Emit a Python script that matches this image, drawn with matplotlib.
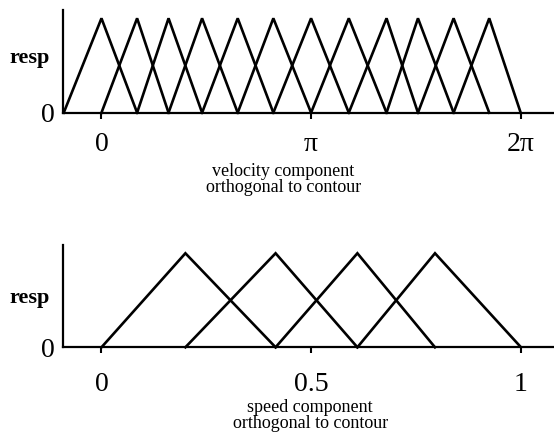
import numpy as np
import matplotlib
matplotlib.use("Agg")
import matplotlib.pyplot as plt

plt.rcParams['font.family'] = ['Liberation Serif', 'DejaVu Serif']

# triangle corners along the axis (each unit's left foot, peak, right foot are
# three consecutive entries); direction units are given in multiples of pi
DIR_VERTICES_PI = [-0.18, 0.0, 0.17, 0.32, 0.48, 0.65, 0.82, 1.0,
                   1.18, 1.36, 1.51, 1.68, 1.85, 2.0]
SPEED_VERTICES = [0.0, 0.2, 0.415, 0.61, 0.795, 1.0]
PEAK_RESP = 1.0

DIR_TICKS_PI = [0, 1, 2]
DIR_TICK_LABELS = ['0', 'π', '2π']
SPEED_TICKS = [0, 0.5, 1]
SPEED_TICK_LABELS = ['0', '0.5', '1']

DIR_XLABEL = 'velocity component\northogonal to contour'
SPEED_XLABEL = 'speed component\northogonal to contour'


def draw_units(ax, vertices, xlim, ticks, tick_labels, xlabel,
               tick_pad, label_pos, resp_y):
    """一排三角形调谐曲线"""
    for i in range(len(vertices) - 2):
        ax.plot(vertices[i:i + 3], [0, PEAK_RESP, 0], color='black', lw=1.9,
                solid_joinstyle='miter', clip_on=False)

    ax.set_xlim(xlim)
    ax.set_ylim(0, 1.088 * PEAK_RESP)
    for side in ('top', 'right'):
        ax.spines[side].set_visible(False)
    for side in ('left', 'bottom'):
        ax.spines[side].set_linewidth(1.6)

    ax.set_xticks(ticks, tick_labels)
    ax.tick_params(axis='x', direction='out', length=4.5, width=1.5,
                   pad=tick_pad, labelsize=20)
    ax.set_yticks([0], ['0'])
    ax.tick_params(axis='y', length=0, pad=6, labelsize=20)

    ax.text(-0.027, resp_y, 'resp', transform=ax.transAxes, ha='right',
            va='baseline', fontsize=16, fontweight='bold')
    ax.text(label_pos[0], label_pos[1], xlabel, transform=ax.transAxes,
            ha='center', va='top', fontsize=13, linespacing=0.95)


def main():
    fig = plt.figure(figsize=(5.54, 4.42), dpi=100)
    ax_dir = fig.add_axes([0.1143, 0.745, 0.8857, 0.2324])
    ax_speed = fig.add_axes([0.1143, 0.2143, 0.8857, 0.2314])

    draw_units(ax_dir, np.array(DIR_VERTICES_PI) * np.pi,
               (-0.182 * np.pi, 2.159 * np.pi),
               np.array(DIR_TICKS_PI) * np.pi, DIR_TICK_LABELS, DIR_XLABEL,
               tick_pad=9.4, label_pos=(0.448, -0.49), resp_y=0.481)
    draw_units(ax_speed, SPEED_VERTICES, (-0.091, 1.0787),
               SPEED_TICKS, SPEED_TICK_LABELS, SPEED_XLABEL,
               tick_pad=13.2, label_pos=(0.503, -0.505), resp_y=0.433)

    fig.savefig('out.png', dpi=100)
    plt.close(fig)


if __name__ == "__main__":
    main()
